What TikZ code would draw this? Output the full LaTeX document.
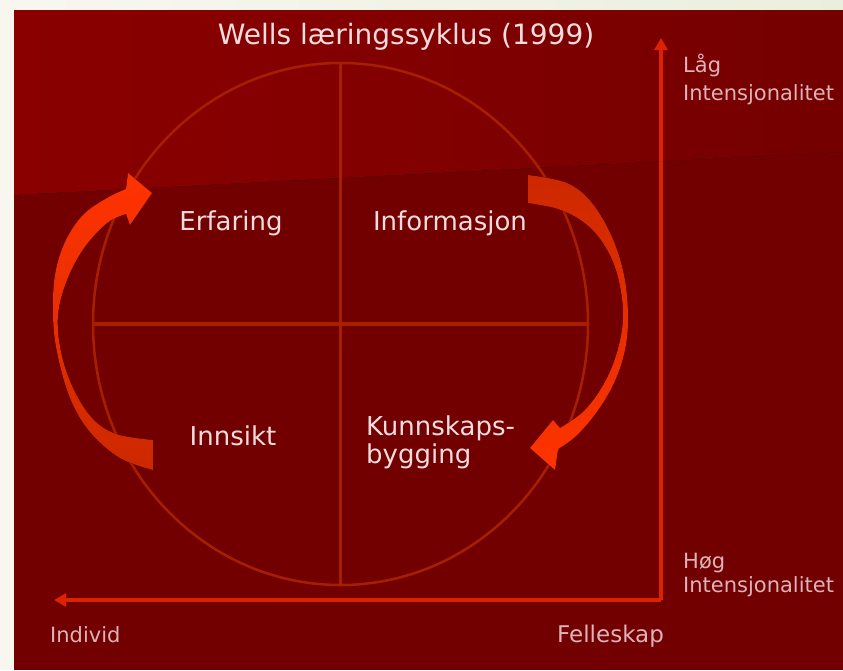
\documentclass[tikz,border=0pt]{standalone}
\usepackage{fontspec}
\setmainfont{DejaVu Sans}
\usetikzlibrary{arrows.meta}
\definecolor{bgdark}{HTML}{720000}
\definecolor{bglight}{HTML}{8A0000}
\definecolor{bglighttwo}{HTML}{740000}
\definecolor{lineclr}{HTML}{A62000}
\definecolor{axisclr}{HTML}{DD2200}
\definecolor{txt}{HTML}{F2DCDE}
\definecolor{sidetxt}{HTML}{DDB2B8}
\definecolor{arrbright}{HTML}{FF3300}
\definecolor{arrdark}{HTML}{CC2800}
\definecolor{cream}{HTML}{F7F7F0}
\definecolor{creamtwo}{HTML}{EAEFDD}
\tikzset{
  crossline/.style={draw=lineclr, line width=3.5pt},
  circline/.style={draw=lineclr, line width=2.5pt},
  axisline/.style={draw=axisclr, line width=4pt, arrows={-Triangle[length=12pt,width=13pt]}},
  mainlabel/.style={text=txt, inner sep=0pt, font=\fontsize{26}{30}\selectfont},
  sidelabel/.style={text=sidetxt, inner sep=0pt, font=\fontsize{21}{25}\selectfont},
  titlelabel/.style={text=txt, inner sep=0pt, font=\fontsize{28}{32}\selectfont}
}
\begin{document}
\begin{tikzpicture}[x=1pt,y=-1pt]
\useasboundingbox (0,0) rectangle (843,670);
% page background
\fill[cream] (0,0) rectangle (843,670);
\fill[left color=cream, right color=creamtwo] (14,0) rectangle (843,10);
% red panel
\fill[bgdark] (14,10) rectangle (843,670);
\fill[left color=bglight, right color=bglighttwo, middle color=bglight!60!bglighttwo] (14,10) -- (843,10) -- (843,152) -- (14,195) -- cycle;

% circle and cross
\coordinate (c) at (340.5,324);
\coordinate (vtop) at (340.5,63);
\coordinate (vbot) at (340.5,585);
\coordinate (hl) at (93,324);
\coordinate (hr) at (588,324);
\draw[crossline] (vtop) -- (vbot);
\draw[crossline] (hl) -- (hr);
\draw[circline] (c) ellipse [x radius=247.5pt, y radius=261pt];

% left curved arrow (up)
\fill[top color=arrbright, bottom color=arrdark, middle color=arrbright!55!arrdark]
  (153,440) -- plot[smooth, tension=0.6] coordinates {(153,470) (120,458) (90,432) (70,398) (57,352) (53,315) (55,275) (65,242) (83,215) (107,198) (126,189)}
  -- (128,173) -- (152,193) -- (130,225)
  -- plot[smooth, tension=0.6] coordinates {(126,214) (107,223) (84,248) (67,280) (58,315) (61,352) (73,388) (92,418) (116,434) (153,440)}
  -- cycle;

% right curved arrow (down)
\fill[top color=arrdark, bottom color=arrbright, middle color=arrbright!55!arrdark]
  (528,203) -- plot[smooth, tension=0.6] coordinates {(528,175) (567,183) (592,203) (612,237) (624,275) (628,315) (625,350) (614,383) (596,413) (576,436) (558,449)}
  -- (555,470) -- (530,448) -- (553,420)
  -- plot[smooth, tension=0.6] coordinates {(560,428) (585,410) (606,380) (619,345) (623,310) (616,270) (601,240) (582,221) (558,209) (528,203)}
  -- cycle;

% axes
\coordinate (corner) at (661,600);
\coordinate (ytop) at (661,38);
\coordinate (xleft) at (54,600);
\draw[axisline] (corner) -- (ytop);
\draw[axisline] (corner) -- (xleft);

% texts
\node[titlelabel, anchor=base] (title) at (406,44) {Wells læringssyklus (1999)};
\node[mainlabel, anchor=base] (erf) at (231,230) {Erfaring};
\node[mainlabel, anchor=base] (inf) at (450,230) {Informasjon};
\node[mainlabel, anchor=base] (inn) at (233,445) {Innsikt};
\node[mainlabel, anchor=base west] (kunn) at (366,435) {Kunnskaps-};
\node[mainlabel, anchor=base west] (bygg) at (366,463) {bygging};

\node[sidelabel, anchor=base west] (laag) at (683,72) {Låg};
\node[sidelabel, anchor=base west] (int1) at (683,100) {Intensjonalitet};
\node[sidelabel, anchor=base west] (hoeg) at (683,568) {Høg};
\node[sidelabel, anchor=base west] (int2) at (683,592) {Intensjonalitet};
\node[sidelabel, anchor=base west] (indiv) at (50,642) {Individ};
\node[sidelabel, anchor=base west, font=\fontsize{23}{27}\selectfont] (felles) at (557,642) {Felleskap};
\end{tikzpicture}
\end{document}
